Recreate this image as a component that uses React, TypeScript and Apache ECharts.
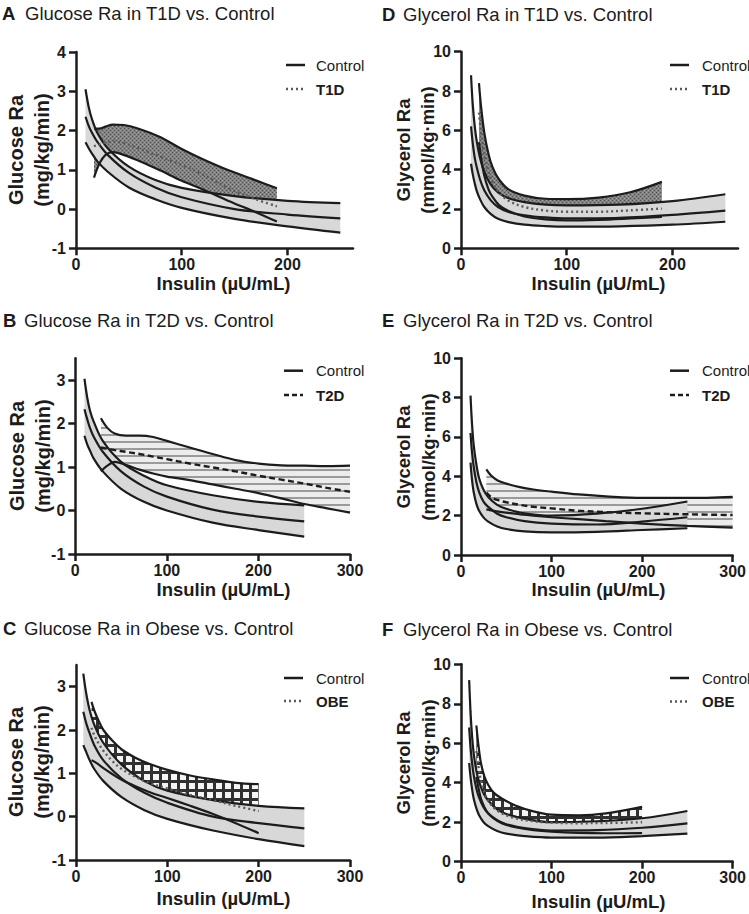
import React, { useEffect, useRef } from 'react';
import * as echarts from 'echarts';

// ---------- data ----------
// Panel A: Glucose Ra, T1D vs Control
const A_ctrlX = [9, 12, 15, 20, 30, 50, 75, 100, 150, 200, 250];
const A_ctrlUp = [3.05, 2.6, 2.3, 1.95, 1.55, 1.08, 0.74, 0.54, 0.33, 0.21, 0.15];
const A_ctrlMean = [2.35, 2.12, 1.95, 1.72, 1.38, 0.92, 0.55, 0.3, 0.0, -0.14, -0.24];
const A_ctrlLow = [1.7, 1.55, 1.42, 1.22, 0.95, 0.55, 0.25, 0.03, -0.25, -0.44, -0.6];
const A_grpX = [17, 22, 28, 35, 45, 62, 80, 100, 120, 145, 170, 190];
const A_grpUp = [2.05, 2.05, 2.1, 2.15, 2.14, 2.02, 1.83, 1.53, 1.27, 0.98, 0.73, 0.53];
const A_grpMean = [1.6, 1.65, 1.7, 1.72, 1.68, 1.52, 1.33, 1.12, 0.88, 0.52, 0.25, 0.07];
const A_grpLow = [0.8, 1.15, 1.38, 1.45, 1.38, 1.2, 0.98, 0.72, 0.5, 0.2, -0.08, -0.32];

// Panel B: Glucose Ra, T2D vs Control
const B_ctrlX = [10, 13, 16, 20, 30, 50, 75, 100, 150, 200, 250];
const B_ctrlUp = [3.03, 2.6, 2.3, 2.05, 1.6, 1.12, 0.8, 0.58, 0.35, 0.2, 0.12];
const B_ctrlMean = [2.33, 2.1, 1.9, 1.7, 1.35, 0.9, 0.55, 0.32, 0.02, -0.14, -0.25];
const B_ctrlLow = [1.72, 1.52, 1.38, 1.2, 0.9, 0.5, 0.2, 0.0, -0.28, -0.45, -0.6];
const B_grpX = [28, 35, 43, 55, 70, 85, 100, 125, 150, 175, 200, 225, 250, 275, 300];
const B_grpUp = [2.12, 1.9, 1.77, 1.72, 1.72, 1.69, 1.6, 1.45, 1.3, 1.16, 1.08, 1.04, 1.03, 1.02, 1.03];
const B_grpMean = [1.45, 1.42, 1.39, 1.35, 1.3, 1.24, 1.18, 1.08, 0.99, 0.9, 0.8, 0.71, 0.62, 0.52, 0.43];
const B_grpLow = [0.9, 1.03, 1.12, 1.05, 0.94, 0.85, 0.78, 0.7, 0.6, 0.5, 0.4, 0.28, 0.15, 0.05, -0.05];

// Panel C: Glucose Ra, Obese vs Control
const C_ctrlX = [8, 10, 12, 15, 20, 30, 50, 75, 100, 150, 200, 250];
const C_ctrlUp = [3.3, 3.0, 2.75, 2.45, 2.12, 1.7, 1.2, 0.82, 0.6, 0.38, 0.25, 0.19];
const C_ctrlMean = [2.42, 2.25, 2.1, 1.92, 1.65, 1.3, 0.88, 0.55, 0.32, 0.0, -0.15, -0.27];
const C_ctrlLow = [1.65, 1.55, 1.45, 1.3, 1.1, 0.82, 0.45, 0.15, -0.05, -0.32, -0.52, -0.68];
const C_grpX = [17, 20, 25, 30, 40, 50, 65, 80, 100, 125, 150, 175, 200];
const C_grpUp = [2.65, 2.45, 2.2, 2.0, 1.75, 1.55, 1.36, 1.22, 1.08, 0.95, 0.86, 0.78, 0.75];
const C_grpMean = [2.05, 1.88, 1.68, 1.52, 1.28, 1.1, 0.92, 0.78, 0.65, 0.5, 0.38, 0.25, 0.13];
const C_grpLow = [1.3, 1.27, 1.2, 1.12, 0.98, 0.85, 0.7, 0.57, 0.43, 0.25, 0.06, -0.15, -0.38];

// Panel D: Glycerol Ra, T1D vs Control
const D_ctrlX = [9.5, 11, 13, 15, 18, 22, 28, 35, 45, 60, 80, 100, 150, 200, 250];
const D_ctrlUp = [8.8, 7.4, 6.2, 5.4, 4.6, 3.9, 3.25, 2.85, 2.55, 2.35, 2.22, 2.18, 2.22, 2.4, 2.75];
const D_ctrlMean = [6.2, 5.4, 4.6, 4.1, 3.5, 2.95, 2.45, 2.1, 1.85, 1.68, 1.57, 1.52, 1.55, 1.7, 1.92];
const D_ctrlLow = [4.3, 3.8, 3.3, 2.9, 2.5, 2.1, 1.75, 1.5, 1.33, 1.2, 1.13, 1.1, 1.12, 1.2, 1.35];
const D_grpX = [17, 19, 22, 26, 30, 36, 45, 60, 80, 100, 130, 160, 190];
const D_grpUp = [8.4, 7.2, 5.9, 4.8, 4.1, 3.5, 3.0, 2.68, 2.52, 2.5, 2.58, 2.85, 3.38];
const D_grpMean = [6.9, 5.9, 4.8, 3.9, 3.35, 2.85, 2.42, 2.1, 1.92, 1.86, 1.86, 1.93, 2.02];
const D_grpLow = [5.4, 4.6, 3.7, 3.0, 2.6, 2.2, 1.9, 1.62, 1.47, 1.42, 1.45, 1.52, 1.6];

// Panel E: Glycerol Ra, T2D vs Control
const E_ctrlX = [10.5, 12, 14, 17, 20, 25, 30, 40, 50, 70, 100, 150, 200, 250];
const E_ctrlUp = [8.1, 6.8, 5.6, 4.6, 3.9, 3.3, 2.95, 2.55, 2.35, 2.12, 2.0, 2.1, 2.35, 2.72];
const E_ctrlMean = [6.2, 5.3, 4.5, 3.7, 3.2, 2.7, 2.45, 2.1, 1.92, 1.72, 1.6, 1.55, 1.7, 1.92];
const E_ctrlLow = [4.7, 3.9, 3.2, 2.6, 2.25, 1.9, 1.7, 1.45, 1.32, 1.2, 1.15, 1.18, 1.27, 1.36];
const E_grpX = [28, 33, 40, 50, 65, 80, 100, 130, 160, 200, 250, 300];
const E_grpUp = [4.35, 4.05, 3.8, 3.63, 3.45, 3.33, 3.22, 3.08, 2.98, 2.9, 2.9, 2.96];
const E_grpMean = [3.17, 2.95, 2.8, 2.68, 2.55, 2.45, 2.37, 2.25, 2.18, 2.12, 2.07, 2.03];
const E_grpLow = [2.32, 2.27, 2.22, 2.15, 2.07, 2.0, 1.92, 1.82, 1.72, 1.6, 1.48, 1.39];

// Panel F: Glycerol Ra, Obese vs Control
const F_ctrlX = [9, 10.5, 12, 14, 17, 20, 25, 30, 40, 50, 70, 100, 150, 200, 250];
const F_ctrlUp = [9.2, 7.6, 6.5, 5.5, 4.6, 4.05, 3.45, 3.1, 2.65, 2.42, 2.18, 2.0, 2.05, 2.2, 2.57];
const F_ctrlMean = [6.8, 5.8, 5.1, 4.4, 3.7, 3.25, 2.75, 2.45, 2.1, 1.9, 1.7, 1.58, 1.6, 1.72, 1.94];
const F_ctrlLow = [5.0, 4.3, 3.75, 3.2, 2.7, 2.35, 2.0, 1.8, 1.55, 1.42, 1.3, 1.22, 1.22, 1.3, 1.42];
const F_grpX = [17, 19, 22, 26, 30, 36, 45, 60, 80, 100, 130, 160, 200];
const F_grpUp = [6.9, 6.0, 5.0, 4.3, 3.9, 3.5, 3.2, 2.85, 2.55, 2.38, 2.35, 2.45, 2.78];
const F_grpMean = [5.6, 4.9, 4.1, 3.5, 3.1, 2.75, 2.45, 2.2, 2.05, 1.98, 1.95, 1.96, 2.0];
const F_grpLow = [4.3, 3.8, 3.2, 2.75, 2.45, 2.2, 1.95, 1.75, 1.6, 1.52, 1.46, 1.44, 1.45];

// tick labels
const X_TICKS_SHORT = [0, 100, 200];
const X_TICKS_LONG = [0, 100, 200, 300];
const Y_TICKS_A = [-1, 0, 1, 2, 3, 4];
const Y_TICKS_BC = [-1, 0, 1, 2, 3];
const Y_TICKS_GLY = [0, 2, 4, 6, 8, 10];

const FONT = '"Liberation Sans", Arial, Helvetica, sans-serif';
const INK = '#1c1c1c';
const CTRL_FILL = '#d8d8d8';

const panels = [
  {
    letter: 'A', title: 'Glucose Ra in T1D vs. Control', group: 'T1D', meanType: 'dotted', pattern: 'dots',
    yNames: ['Glucose Ra', '(mg/kg/min)'], yNameSize: 20, xMax: 262, xTicks: X_TICKS_SHORT,
    yMin: -1, yMax: 4, yTicks: Y_TICKS_A,
    ctrl: [A_ctrlX, A_ctrlUp, A_ctrlMean, A_ctrlLow], grp: [A_grpX, A_grpUp, A_grpMean, A_grpLow],
    L: { left: 76, top: 52, width: 277, height: 196.3, letterX: 2, titleX: 25, titleY: 13.5, yn1X: 16, yn2X: 42, ynY: 150, xnX: 223.5, xnY: 283, legX: 286, legTX: 316, legY1: 65, legY2: 89 },
  },
  {
    letter: 'B', title: 'Glucose Ra in T2D vs. Control', group: 'T2D', meanType: 'dashed', pattern: 'hatch',
    yNames: ['Glucose Ra', '(mg/kg/min)'], yNameSize: 20, xMax: 300, xTicks: X_TICKS_LONG,
    yMin: -1, yMax: 3.5, yTicks: Y_TICKS_BC,
    ctrl: [B_ctrlX, B_ctrlUp, B_ctrlMean, B_ctrlLow], grp: [B_grpX, B_grpUp, B_grpMean, B_grpLow],
    L: { left: 75.3, top: 358.3, width: 274.7, height: 195.7, letterX: 3, titleX: 24, titleY: 320, yn1X: 17, yn2X: 43, ynY: 456, xnX: 223.5, xnY: 589, legX: 284, legTX: 316, legY1: 370.7, legY2: 395 },
  },
  {
    letter: 'C', title: 'Glucose Ra in Obese vs. Control', group: 'OBE', meanType: 'dotted', pattern: 'checker',
    yNames: ['Glucose Ra', '(mg/kg/min)'], yNameSize: 20, xMax: 300, xTicks: X_TICKS_LONG,
    yMin: -1, yMax: 3.5, yTicks: Y_TICKS_BC,
    ctrl: [C_ctrlX, C_ctrlUp, C_ctrlMean, C_ctrlLow], grp: [C_grpX, C_grpUp, C_grpMean, C_grpLow],
    L: { left: 76, top: 665, width: 274, height: 195, letterX: 3, titleX: 24, titleY: 628, yn1X: 16, yn2X: 42, ynY: 762, xnX: 223.5, xnY: 898, legX: 284, legTX: 316, legY1: 678, legY2: 701 },
  },
  {
    letter: 'D', title: 'Glycerol Ra in T1D vs. Control', group: 'T1D', meanType: 'dotted', pattern: 'dots',
    yNames: ['Glycerol Ra', '(mmol/kg\u00b7min)'], yNameSize: 18.5, xMax: 262, xTicks: X_TICKS_SHORT,
    yMin: 0, yMax: 10, yTicks: Y_TICKS_GLY,
    ctrl: [D_ctrlX, D_ctrlUp, D_ctrlMean, D_ctrlLow], grp: [D_grpX, D_grpUp, D_grpMean, D_grpLow],
    L: { left: 461, top: 51.7, width: 277, height: 196.6, letterX: 382, titleX: 403, titleY: 14, yn1X: 403, yn2X: 427, ynY: 150, xnX: 598.5, xnY: 283, legX: 670, legTX: 702, legY1: 65, legY2: 89 },
  },
  {
    letter: 'E', title: 'Glycerol Ra in T2D vs. Control', group: 'T2D', meanType: 'dashed', pattern: 'hatch',
    yNames: ['Glycerol Ra', '(mmol/kg\u00b7min)'], yNameSize: 18.5, xMax: 300, xTicks: X_TICKS_LONG,
    yMin: 0, yMax: 10, yTicks: Y_TICKS_GLY,
    ctrl: [E_ctrlX, E_ctrlUp, E_ctrlMean, E_ctrlLow], grp: [E_grpX, E_grpUp, E_grpMean, E_grpLow],
    L: { left: 461, top: 358.3, width: 275, height: 196.7, letterX: 382, titleX: 403, titleY: 320, yn1X: 403, yn2X: 428, ynY: 457, xnX: 598.5, xnY: 589, legX: 670, legTX: 702, legY1: 370.7, legY2: 395 },
  },
  {
    letter: 'F', title: 'Glycerol Ra in Obese vs. Control', group: 'OBE', meanType: 'dotted', pattern: 'checker',
    yNames: ['Glycerol Ra', '(mmol/kg\u00b7min)'], yNameSize: 18.5, xMax: 300, xTicks: X_TICKS_LONG,
    yMin: 0, yMax: 10, yTicks: Y_TICKS_GLY,
    ctrl: [F_ctrlX, F_ctrlUp, F_ctrlMean, F_ctrlLow], grp: [F_grpX, F_grpUp, F_grpMean, F_grpLow],
    L: { left: 461, top: 664.3, width: 274, height: 197.4, letterX: 382, titleX: 403, titleY: 629, yn1X: 403, yn2X: 428, ynY: 763, xnX: 598.5, xnY: 901, legX: 670, legTX: 702, legY1: 678, legY2: 701.5 },
  },
];

function makeCanvas(w: number, h: number, draw: (c: CanvasRenderingContext2D) => void) {
  const cv = document.createElement('canvas');
  cv.width = w;
  cv.height = h;
  const ctx = cv.getContext('2d');
  if (ctx) draw(ctx);
  return { image: cv, repeat: 'repeat', imageWidth: w, imageHeight: h };
}

function makePatterns() {
  const dots = makeCanvas(4, 4, (c) => {
    c.fillStyle = '#828282';
    c.fillRect(0, 0, 4, 4);
    c.fillStyle = '#4e4e4e';
    c.fillRect(0, 0, 1, 1);
    c.fillRect(2, 2, 1, 1);
    c.fillStyle = '#a2a2a2';
    c.fillRect(2, 0, 1, 1);
    c.fillRect(0, 2, 1, 1);
  });
  const hatch = makeCanvas(8, 7, (c) => {
    c.fillStyle = '#ececec';
    c.fillRect(0, 0, 8, 7);
    c.fillStyle = '#9a9a9a';
    c.fillRect(0, 0, 8, 2);
  });
  const checker = makeCanvas(9, 9, (c) => {
    c.fillStyle = '#303030';
    c.fillRect(0, 0, 9, 9);
    c.fillStyle = '#f4f4f4';
    c.fillRect(0, 0, 6, 6);
  });
  return { dots, hatch, checker } as Record<string, any>;
}

const SMOOTH = 0.35;

// rows are [value, insulin] so that the stacked dimension is the y value
function rows(xs: number[], ys: number[]) {
  return xs.map((x, k) => [ys[k], x]);
}

// band between lower and upper: invisible lower series + stacked (upper - lower) with a fill
function bandSeries(i: number, key: string, xs: number[], low: number[], up: number[], color: any, z: number) {
  const common = {
    type: 'line', xAxisIndex: i, yAxisIndex: i, encode: { x: 1, y: 0 },
    stack: key + i, stackStrategy: 'all', smooth: SMOOTH, symbol: 'none', silent: true, z,
    lineStyle: { width: 0, opacity: 0 },
  };
  return [
    { ...common, data: rows(xs, low) },
    { ...common, data: rows(xs, up.map((u, k) => u - low[k])), areaStyle: { color, opacity: 1 } },
  ];
}

function lineSeries(i: number, name: string, xs: number[], ys: number[], lineStyle: any, z: number) {
  return {
    type: 'line', name, xAxisIndex: i, yAxisIndex: i, encode: { x: 1, y: 0 },
    data: rows(xs, ys), smooth: SMOOTH, symbol: 'none', silent: true, z, lineStyle,
  };
}

function text(x: number, y: number, t: string, size: number, weight: string, align = 'left', rotation = 0) {
  return {
    type: 'text', x, y, rotation, silent: true,
    style: {
      text: t, fontSize: size, fontWeight: weight, fontFamily: FONT, fill: INK,
      align, verticalAlign: 'middle', textAlign: align, textVerticalAlign: 'middle',
    },
  };
}

export default function App() {
  const ref = useRef<HTMLDivElement>(null);

  useEffect(() => {
    if (!ref.current) return;
    const chart = echarts.init(ref.current, undefined, { renderer: 'svg' });
    const pats = makePatterns();
    const grids: any[] = [];
    const xAxes: any[] = [];
    const yAxes: any[] = [];
    const series: any[] = [];
    const graphics: any[] = [];

    const solid = { color: INK, width: 2.2, type: 'solid' };

    panels.forEach((p, i) => {
      const L = p.L;
      grids.push({ left: L.left, top: L.top, width: L.width, height: L.height, containLabel: false });
      const axisCommon = {
        type: 'value', gridIndex: i, z: 10,
        splitLine: { show: false },
        axisLine: { show: true, onZero: false, lineStyle: { color: INK, width: 2.5 } },
      };
      xAxes.push({
        ...axisCommon, min: 0, max: p.xMax,
        axisTick: { show: true, length: 7, customValues: p.xTicks, lineStyle: { color: INK, width: 2.5 } },
        axisLabel: { customValues: p.xTicks, margin: 8, fontSize: 16, fontWeight: 'bold', color: INK, fontFamily: FONT },
      });
      yAxes.push({
        ...axisCommon, min: p.yMin, max: p.yMax,
        axisTick: { show: true, length: 7, customValues: p.yTicks, lineStyle: { color: INK, width: 2.5 } },
        axisLabel: { customValues: p.yTicks, margin: 10, fontSize: 16, fontWeight: 'bold', color: INK, fontFamily: FONT },
      });

      const [cx, cu, cm, cl] = p.ctrl;
      const [gx, gu, gm, gl] = p.grp;
      // fills: group band (pattern) first, control band (grey) over it
      series.push(...bandSeries(i, 'grp', gx, gl, gu, pats[p.pattern], 1));
      series.push(...bandSeries(i, 'ctrl', cx, cl, cu, CTRL_FILL, 2));
      // curves
      series.push(lineSeries(i, 'Control upper', cx, cu, solid, 5));
      series.push(lineSeries(i, 'Control', cx, cm, solid, 5));
      series.push(lineSeries(i, 'Control lower', cx, cl, solid, 5));
      series.push(lineSeries(i, p.group + ' upper', gx, gu, solid, 5));
      series.push(lineSeries(i, p.group + ' lower', gx, gl, solid, 5));
      const meanStyle = p.meanType === 'dashed'
        ? { color: INK, width: 2.4, type: [6, 3.5] }
        : { color: '#5a5a5a', width: 2.4, type: [2, 3] };
      series.push(lineSeries(i, p.group, gx, gm, meanStyle, 6));

      // titles
      graphics.push(text(L.letterX, L.titleY, p.letter, 18.5, 'bold'));
      graphics.push(text(L.titleX, L.titleY, p.title, 18.5, 'normal'));
      // axis names
      graphics.push(text(L.yn1X, L.ynY, p.yNames[0], p.yNameSize, 'bold', 'center', Math.PI / 2));
      graphics.push(text(L.yn2X, L.ynY, p.yNames[1], p.yNameSize, 'bold', 'center', Math.PI / 2));
      graphics.push(text(L.xnX, L.xnY, 'Insulin (\u00b5U/mL)', 18.5, 'bold', 'center'));
      // legend
      graphics.push({
        type: 'line', silent: true,
        shape: { x1: L.legX, y1: L.legY1, x2: L.legX + 19, y2: L.legY1 },
        style: { stroke: INK, lineWidth: 2.5 },
      });
      graphics.push({
        type: 'line', silent: true,
        shape: { x1: L.legX, y1: L.legY2, x2: L.legX + 19, y2: L.legY2 },
        style: p.meanType === 'dashed'
          ? { stroke: INK, lineWidth: 2.5, lineDash: [5, 3] }
          : { stroke: '#5a5a5a', lineWidth: 2.4, lineDash: [2, 3] },
      });
      graphics.push(text(L.legTX, L.legY1, 'Control', 15, 'normal'));
      graphics.push(text(L.legTX, L.legY2, p.group, 15, 'bold'));
    });

    chart.setOption({
      animation: false,
      backgroundColor: '#ffffff',
      grid: grids,
      xAxis: xAxes,
      yAxis: yAxes,
      series,
      graphic: { elements: graphics },
    });
    return () => chart.dispose();
  }, []);

  return (
    <div
      ref={ref}
      style={{ position: 'absolute', left: 0, top: 0, width: 749, height: 914 }}
    />
  );
}
